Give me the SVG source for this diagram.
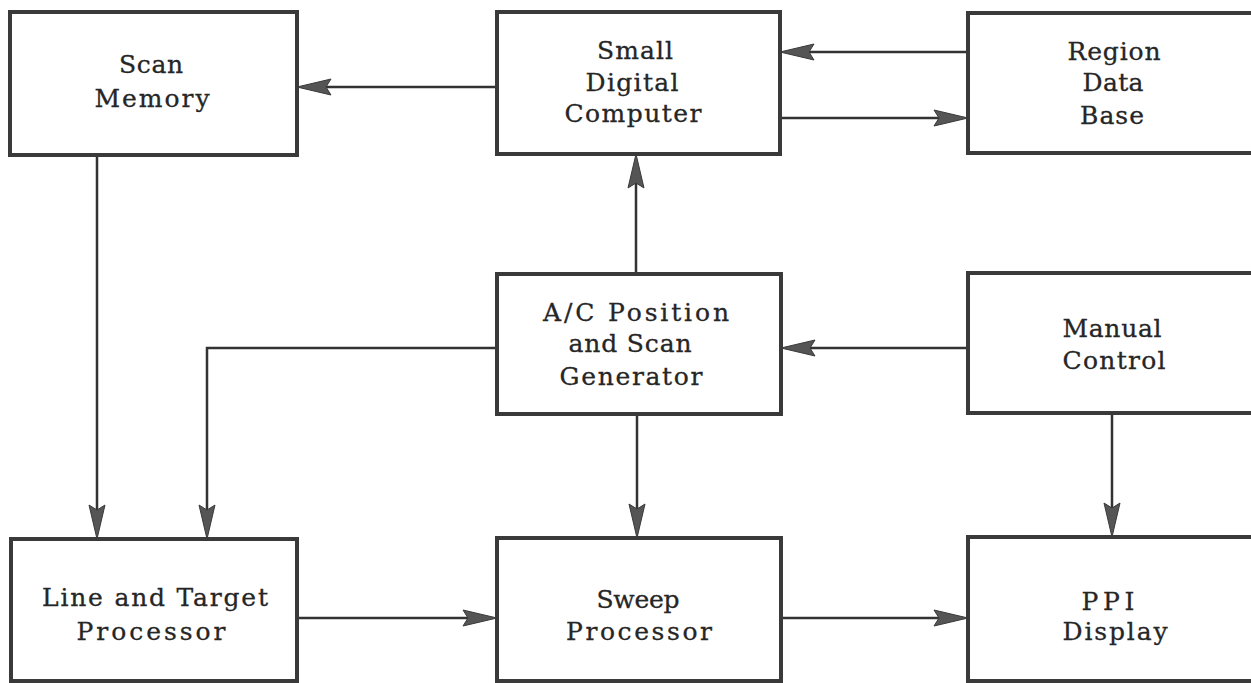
<svg xmlns="http://www.w3.org/2000/svg" width="1251" height="683" viewBox="0 0 1251 683">
<style>
  .box { fill: #ffffff; stroke: #3a3a3a; stroke-width: 4; }
  .lbl { font-family: "DejaVu Serif", "Liberation Serif", serif; font-size: 25px; fill: #262626; stroke: #262626; stroke-width: 0.3; text-anchor: middle; }
  .conn { fill: none; stroke: #333333; stroke-width: 2.5; }
</style>
<defs>
  <marker id="ah" markerUnits="userSpaceOnUse" viewBox="-36 -10 38 20" markerWidth="38" markerHeight="20" refX="-8" refY="0" orient="auto">
    <path d="M0,0 L-34,-8 L-29,0 L-34,8 Z" fill="#555555" stroke="#3a3a3a" stroke-width="1"/>
  </marker>
</defs>
<rect width="1251" height="683" fill="#ffffff"/>

<g id="connectors">
  <path class="conn" d="M497,87 H305" marker-end="url(#ah)"/>
  <path class="conn" d="M968,52 H788" marker-end="url(#ah)"/>
  <path class="conn" d="M780,118 H960" marker-end="url(#ah)"/>
  <path class="conn" d="M636,274 V162" marker-end="url(#ah)"/>
  <path class="conn" d="M97,155 V531" marker-end="url(#ah)"/>
  <path class="conn" d="M497,348 H207 V531" marker-end="url(#ah)"/>
  <path class="conn" d="M637,414 V530" marker-end="url(#ah)"/>
  <path class="conn" d="M968,348 H789" marker-end="url(#ah)"/>
  <path class="conn" d="M1112,413 V529" marker-end="url(#ah)"/>
  <path class="conn" d="M297,618 H489" marker-end="url(#ah)"/>
  <path class="conn" d="M781,618 H960" marker-end="url(#ah)"/>
</g>

<g id="scan-memory">
  <rect class="box" x="10" y="12" width="287" height="143"/>
  <text class="lbl" x="151" y="73" textLength="64" lengthAdjust="spacing">Scan</text>
  <text class="lbl" x="152" y="107" textLength="115" lengthAdjust="spacing">Memory</text>
</g>
<g id="small-digital-computer">
  <rect class="box" x="497" y="12" width="283" height="142"/>
  <text class="lbl" x="635" y="59" textLength="76" lengthAdjust="spacing">Small</text>
  <text class="lbl" x="632" y="91" textLength="93" lengthAdjust="spacing">Digital</text>
  <text class="lbl" x="633" y="122" textLength="137" lengthAdjust="spacing">Computer</text>
</g>
<g id="region-data-base">
  <rect class="box" x="968" y="13" width="300" height="140"/>
  <text class="lbl" x="1114" y="60" textLength="93" lengthAdjust="spacing">Region</text>
  <text class="lbl" x="1113" y="91" textLength="61" lengthAdjust="spacing">Data</text>
  <text class="lbl" x="1112" y="124" textLength="64" lengthAdjust="spacing">Base</text>
</g>
<g id="ac-position-scan-generator">
  <rect class="box" x="497" y="274" width="284" height="140"/>
  <text class="lbl" x="636" y="321" textLength="186" lengthAdjust="spacing">A/C Position</text>
  <text class="lbl" x="630" y="352" textLength="123" lengthAdjust="spacing">and Scan</text>
  <text class="lbl" x="631" y="385" textLength="143" lengthAdjust="spacing">Generator</text>
</g>
<g id="manual-control">
  <rect class="box" x="968" y="273" width="300" height="140"/>
  <text class="lbl" x="1112" y="337" textLength="99" lengthAdjust="spacing">Manual</text>
  <text class="lbl" x="1114" y="369" textLength="103" lengthAdjust="spacing">Control</text>
</g>
<g id="line-target-processor">
  <rect class="box" x="11" y="539" width="286" height="142"/>
  <text class="lbl" x="155" y="606" textLength="226" lengthAdjust="spacing">Line and Target</text>
  <text class="lbl" x="151" y="640" textLength="149" lengthAdjust="spacing">Processor</text>
</g>
<g id="sweep-processor">
  <rect class="box" x="497" y="538" width="284" height="143"/>
  <text class="lbl" x="638" y="608" textLength="83" lengthAdjust="spacing">Sweep</text>
  <text class="lbl" x="639" y="640" textLength="146" lengthAdjust="spacing">Processor</text>
</g>
<g id="ppi-display">
  <rect class="box" x="968" y="537" width="300" height="144"/>
  <text class="lbl" x="1108" y="610" textLength="53" lengthAdjust="spacing">PPI</text>
  <text class="lbl" x="1115" y="640" textLength="105" lengthAdjust="spacing">Display</text>
</g>
</svg>
